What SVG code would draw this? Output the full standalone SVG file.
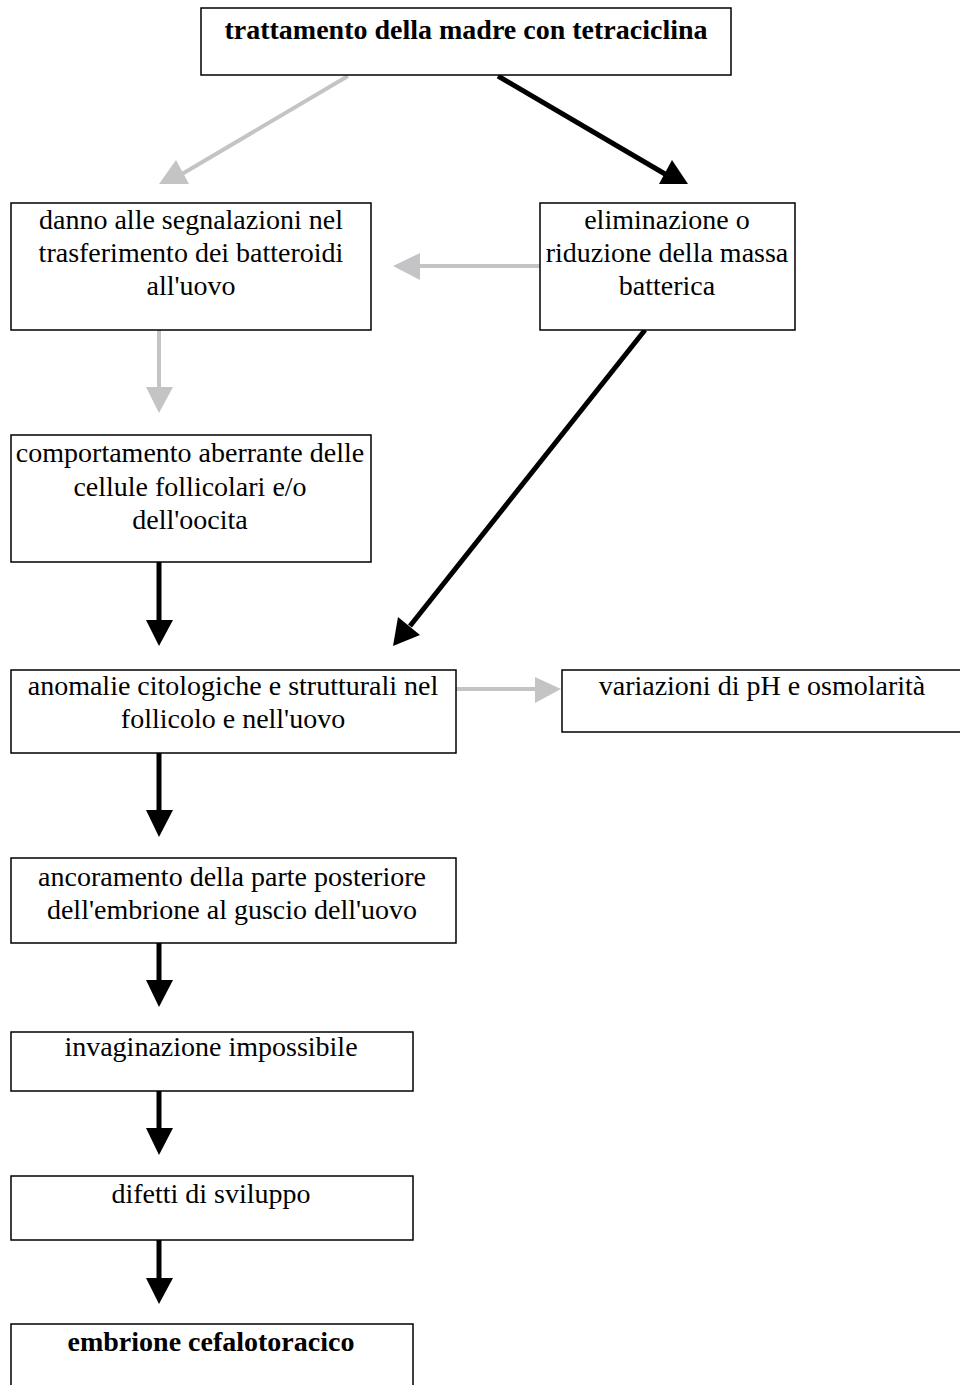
<svg xmlns="http://www.w3.org/2000/svg" width="960" height="1385" viewBox="0 0 960 1385">
<style>
.box{fill:#fff;stroke:#000;stroke-width:1.5}
.t{font-family:"Liberation Serif","Times New Roman",serif;font-size:28px;fill:#000;text-anchor:middle}
.b{font-weight:bold}
.g{stroke:#c4c4c6;stroke-width:4;fill:none}
.k{stroke:#000;stroke-width:5;fill:none}
.gh{fill:#c4c4c6}
.kh{fill:#000}
</style>
<rect width="960" height="1385" fill="#fff"/>
<g id="connectors">
<line class="g" x1="348" y1="76" x2="182" y2="174"/>
<polygon class="gh" points="159,184 189,184 176,160"/>
<line class="k" x1="498" y1="76" x2="665" y2="174"/>
<polygon class="kh" points="688,184 659,184 672,160"/>
<line class="g" x1="540" y1="266" x2="418" y2="266"/>
<polygon class="gh" points="393,266 420,253 420,280"/>
<line class="g" x1="159" y1="330" x2="159" y2="389"/>
<polygon class="gh" points="146,387 173,387 159,413"/>
<line class="k" x1="645" y1="330" x2="410" y2="626"/>
<polygon class="kh" points="393,646 398,617 420,635"/>
<line class="g" x1="456" y1="689" x2="537" y2="689"/>
<polygon class="gh" points="535,677 535,703 561,689"/>
<line class="k" x1="159" y1="562" x2="159" y2="622"/>
<polygon class="kh" points="146,620 173,620 159,646"/>
<line class="k" x1="159" y1="753" x2="159" y2="812"/>
<polygon class="kh" points="146,810 173,810 159,837"/>
<line class="k" x1="159" y1="943" x2="159" y2="982"/>
<polygon class="kh" points="146,980 173,980 159,1007"/>
<line class="k" x1="159" y1="1091" x2="159" y2="1130"/>
<polygon class="kh" points="146,1128 173,1128 159,1155"/>
<line class="k" x1="159" y1="1240" x2="159" y2="1280"/>
<polygon class="kh" points="146,1278 173,1278 159,1304"/>
</g>
<g id="n1"><rect class="box" x="201" y="8" width="530" height="67"/><text class="t b" x="466" y="39">trattamento della madre con tetraciclina</text></g>
<g id="n2"><rect class="box" x="11" y="203" width="360" height="127"/><text class="t"><tspan x="191" y="229">danno alle segnalazioni nel</tspan><tspan x="191" y="262">trasferimento dei batteroidi</tspan><tspan x="191" y="295">all'uovo</tspan></text></g>
<g id="n3"><rect class="box" x="540" y="203" width="255" height="127"/><text class="t"><tspan x="667" y="229">eliminazione o</tspan><tspan x="667" y="262">riduzione della massa</tspan><tspan x="667" y="295">batterica</tspan></text></g>
<g id="n4"><rect class="box" x="11" y="435" width="360" height="127"/><text class="t"><tspan x="190" y="462">comportamento aberrante delle</tspan><tspan x="190" y="496">cellule follicolari e/o</tspan><tspan x="190" y="529">dell'oocita</tspan></text></g>
<g id="n5"><rect class="box" x="11" y="670" width="445" height="83"/><text class="t"><tspan x="233" y="695">anomalie citologiche e strutturali nel</tspan><tspan x="233" y="728">follicolo e nell'uovo</tspan></text></g>
<g id="n6"><rect class="box" x="562" y="670" width="410" height="62"/><text class="t" x="762" y="695">variazioni di pH e osmolarità</text></g>
<g id="n7"><rect class="box" x="11" y="858" width="445" height="85"/><text class="t"><tspan x="232" y="886">ancoramento della parte posteriore</tspan><tspan x="232" y="919">dell'embrione al guscio dell'uovo</tspan></text></g>
<g id="n8"><rect class="box" x="11" y="1032" width="402" height="59"/><text class="t" x="211" y="1056">invaginazione impossibile</text></g>
<g id="n9"><rect class="box" x="11" y="1176" width="402" height="64"/><text class="t" x="211" y="1203">difetti di sviluppo</text></g>
<g id="n10"><rect class="box" x="11" y="1324" width="402" height="80"/><text class="t b" x="211" y="1351">embrione cefalotoracico</text></g>
</svg>
